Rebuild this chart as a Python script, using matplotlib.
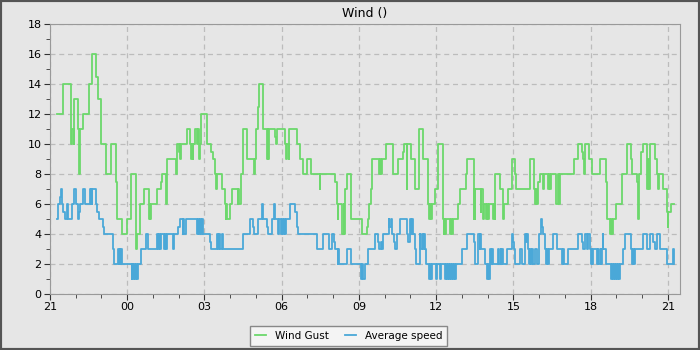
import numpy as np
import pandas as pd
import matplotlib
matplotlib.use("Agg")
from matplotlib import pyplot as plt
import matplotlib.dates as mdates
from matplotlib.patches import Rectangle

#%% data: (minutes after 21:00, value) change points
start = pd.Timestamp("2024-01-01 21:00")
end_min = 1454  # last sample

gust = [(16, 12), (30, 14), (48, 10.5), (50, 10), (52, 11), (55, 10), (57, 13), (66, 11), (68, 8), (69, 11),
        (78, 12), (91, 14), (97, 16), (107, 14.5), (111, 13), (120, 10), (130, 8), (142, 10), (154, 7.5),
        (155, 5), (167, 4), (179, 5), (189, 8), (200, 3.5), (201, 3), (202, 3.5), (203, 4), (210, 6),
        (220, 7), (231, 5), (233, 6), (234, 5), (236, 6), (249, 6.5), (250, 7), (258, 7.5), (260, 8),
        (270, 6), (272, 9), (294, 8), (295, 10), (301, 9.5), (303, 10), (304, 9), (306, 10), (319, 11),
        (326, 10), (329, 9), (331, 10), (333, 9), (334, 10), (338, 11), (343, 10), (345, 11), (347, 9),
        (349, 10), (353, 12), (365, 10), (375, 9.5), (379, 9), (384, 8), (387, 7), (389, 8), (400, 7),
        (408, 6), (410, 5), (411, 6), (412, 5), (419, 6), (423, 7), (437, 6), (439, 7), (441, 6), (444, 8),
        (449, 11), (460, 9), (475, 8), (478, 9), (480, 11), (484, 12.5), (487, 14), (497, 11), (506, 9),
        (508, 11), (509, 9), (511, 11), (525, 10.5), (527, 10), (530, 11), (548, 10), (551, 9), (553, 10),
        (556, 9), (557, 11), (575, 10), (583, 9), (589, 8), (598, 9), (608, 8), (628, 7), (630, 8),
        (664, 7.5), (668, 6), (670, 5), (672, 6), (681, 4), (684, 6), (686, 4), (687, 7), (691, 8),
        (701, 5), (728, 4), (738, 4.5), (741, 5), (743, 6), (747, 7), (751, 9), (767, 8), (769, 9),
        (771, 8), (773, 9), (784, 10), (800, 8), (811, 9), (822, 9.5), (826, 10), (831, 7), (832, 10),
        (842, 9), (850, 7), (860, 11), (870, 9), (881, 6), (884, 5), (886, 6), (888, 5), (889, 6),
        (897, 7), (903, 10), (915, 5), (917, 4), (919, 5), (921, 4), (923, 5), (932, 4), (934, 5),
        (937, 4), (938, 5), (950, 6), (956, 7), (969, 8), (972, 9), (988, 5), (989, 7), (990, 5),
        (991, 7), (1004, 5.5), (1005, 7), (1008, 6), (1009, 5), (1011, 6), (1016, 5), (1018, 6),
        (1020, 5), (1022, 6), (1032, 5), (1035, 6), (1036, 5), (1038, 8), (1048, 7), (1056, 5),
        (1058, 6), (1068, 7), (1076, 9), (1083, 8), (1087, 7), (1118, 9), (1128, 7), (1130, 6),
        (1132, 7), (1135, 6), (1136, 7.5), (1142, 8), (1149, 7), (1152, 8), (1161, 7), (1163, 8),
        (1165, 7), (1168, 8), (1180, 6), (1183, 8), (1186, 6), (1188, 8), (1221, 9), (1231, 10),
        (1239, 9.5), (1242, 9), (1244, 8), (1246, 10), (1256, 9), (1262, 8), (1282, 9), (1295, 7.5),
        (1298, 5), (1305, 4), (1307, 5), (1309, 4), (1312, 5), (1320, 6), (1332, 8), (1344, 10),
        (1354, 9), (1357, 8), (1367, 7.5), (1370, 5), (1372, 8), (1377, 9.5), (1381, 10), (1390, 9),
        (1392, 7), (1394, 9), (1396, 7), (1398, 10), (1410, 9), (1415, 8), (1417, 7), (1419, 8),
        (1428, 7), (1437, 5.5), (1439, 4.5), (1441, 5.5), (1447, 6)]

avg = [(16, 5), (19, 6), (23, 6.5), (26, 7), (28, 6), (31, 5.5), (35, 5), (40, 6), (43, 5), (51, 6),
       (57, 7), (60, 6), (65, 5.5), (66, 5), (68, 5.5), (70, 6), (78, 7), (82, 6), (93, 7), (95, 6),
       (96, 7), (98, 6), (99, 7), (107, 6), (110, 5.5), (115, 5), (123, 4.5), (126, 4), (147, 3),
       (150, 2), (158, 3), (160, 2), (162, 3), (164, 2), (166, 3), (168, 2), (190, 1), (192, 2),
       (194, 1), (196, 2), (198, 1), (200, 2), (202, 1), (204, 2), (212, 3), (224, 4), (229, 3),
       (250, 4), (252, 3), (254, 4), (256, 3), (258, 4), (266, 3), (268, 4), (270, 3), (273, 4),
       (286, 3), (289, 4), (299, 4.5), (303, 5), (309, 4), (311, 5), (313, 4), (316, 5), (342, 4),
       (345, 5), (347, 4), (350, 5), (352, 4), (354, 5), (357, 4), (373, 3.5), (375, 3), (388, 4),
       (391, 3), (394, 4), (396, 3), (400, 4), (403, 3), (449, 4), (466, 5), (474, 4.5), (475, 4),
       (485, 5), (495, 6), (496, 5), (505, 4.5), (507, 4), (518, 5), (522, 6), (525, 5), (532, 4),
       (534, 5), (538, 4), (540, 5), (543, 4), (545, 5), (547, 4), (550, 5), (559, 6), (571, 5.5),
       (575, 4.5), (577, 4), (622, 3), (637, 4), (650, 3), (658, 4), (662, 3.5), (665, 3), (670, 2),
       (672, 3), (674, 2), (691, 3), (701, 2), (725, 1), (728, 2), (730, 1), (734, 2), (742, 3),
       (757, 4), (765, 3.5), (767, 3), (771, 3.5), (773, 3), (776, 4), (790, 5), (791, 4.5), (794, 5),
       (798, 4), (802, 3.5), (804, 3), (808, 4), (815, 5), (831, 4), (834, 3.5), (839, 5), (841, 4),
       (844, 5), (846, 4), (850, 3), (853, 2), (861, 4), (862, 3), (866, 4), (869, 3), (871, 4),
       (873, 3), (875, 2), (884, 1), (885, 2), (888, 1), (890, 2), (899, 1), (902, 2), (909, 1),
       (911, 2), (920, 1), (923, 2), (925, 1), (927, 2), (930, 1), (932, 2), (934, 1), (937, 2),
       (939, 1), (941, 2), (944, 1), (947, 2), (959, 3), (972, 4), (988, 3.5), (990, 2), (998, 4),
       (1001, 3), (1003, 4), (1004, 3), (1014, 2), (1019, 1), (1021, 2), (1023, 1), (1025, 2),
       (1026, 3), (1028, 2), (1030, 3), (1033, 2), (1045, 3), (1047, 2), (1050, 3), (1052, 2),
       (1054, 3), (1056, 2), (1064, 3), (1076, 4), (1078, 3.5), (1081, 3), (1083, 2), (1095, 3),
       (1099, 2), (1107, 4), (1109, 3.5), (1111, 4), (1114, 3), (1117, 2), (1119, 3), (1121, 2),
       (1124, 3), (1126, 2), (1130, 3), (1135, 2), (1139, 4), (1144, 4.5), (1145, 5), (1147, 4.5),
       (1149, 4), (1153, 3), (1156, 2), (1158, 3), (1160, 2), (1163, 3), (1171, 4), (1181, 3),
       (1194, 2), (1196, 3), (1198, 2), (1206, 3), (1231, 4), (1239, 3.5), (1242, 3), (1247, 4),
       (1251, 3), (1253, 4), (1258, 3), (1260, 2), (1262, 3), (1264, 2), (1266, 3), (1275, 2),
       (1278, 3), (1280, 2), (1283, 3), (1285, 2), (1287, 3), (1288, 4), (1289, 3), (1295, 2),
       (1307, 1), (1309, 2), (1312, 1), (1314, 2), (1316, 1), (1318, 2), (1321, 1), (1323, 2),
       (1325, 1), (1328, 2), (1336, 3), (1341, 4), (1354, 3), (1356, 2), (1358, 3), (1361, 2),
       (1363, 3), (1382, 4), (1392, 3), (1398, 4), (1406, 3.5), (1409, 3), (1414, 4), (1421, 3),
       (1437, 2), (1451, 3), (1453, 2)]

def series(pairs):
    m, v = zip(*pairs)
    m = list(m) + [end_min]
    v = list(v) + [v[-1]]
    return start + pd.to_timedelta(m, unit="min"), v

#%% plot
bg = "#e6e6e6"
fig = plt.figure(figsize=(7, 3.5), dpi=100, facecolor=bg)
ax = fig.add_axes([50/700, 56/350, 630/700, 270/350], facecolor=bg)

tg, vg = series(gust)
ta, va = series(avg)
ax.step(tg, vg, where="post", color="#6cd86c", lw=1.3, label="Wind Gust")
ax.step(ta, va, where="post", color="#4aa8d8", lw=1.3, label="Average speed")

ax.set_xlim(start, start + pd.Timedelta(minutes=1468))
ax.set_ylim(0, 18)
ax.set_yticks(np.arange(0, 19, 2))
ax.set_yticks(np.arange(0, 19, 1), minor=True)
ax.xaxis.set_major_locator(mdates.HourLocator(byhour=range(0, 24, 3)))
ax.xaxis.set_minor_locator(mdates.HourLocator())
ax.xaxis.set_major_formatter(mdates.DateFormatter("%H"))

ax.grid(True, which="major", color="#bcbcbc", ls=(0, (4, 3)), lw=0.9)
for s in ax.spines.values():
    s.set_color("#999999")
ax.tick_params(which="both", direction="out", color="#333333", labelsize=8, pad=2)
ax.tick_params(which="major", length=4)
ax.tick_params(which="minor", length=3)

ax.set_title("Wind ()", fontsize=9, pad=5)

leg = ax.legend(loc="upper center", bbox_to_anchor=(0.4745, -0.1), ncol=2, fontsize=7.5,
                frameon=True, fancybox=False, handlelength=1.0, handletextpad=0.9,
                columnspacing=1.6, borderpad=0.45)
leg.get_frame().set_facecolor("#f4f4f4")
leg.get_frame().set_edgecolor("#888888")
leg.get_frame().set_alpha(1)

# dark outer frame
fig.patches.append(Rectangle((0, 0), 1, 1, transform=fig.transFigure, fill=False,
                             edgecolor="#555555", lw=3))

fig.savefig("out.png", dpi=100, facecolor=bg)
